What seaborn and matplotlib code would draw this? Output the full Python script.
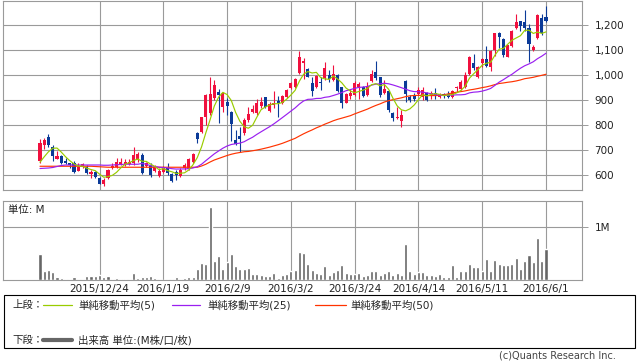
import numpy as np
import pandas as pd
import matplotlib
matplotlib.use('Agg')
import matplotlib.pyplot as plt
import seaborn as sns
from matplotlib.patches import Rectangle
from matplotlib.lines import Line2D

# ---------------- data ----------------
tick_idx = [14, 29, 44, 59, 74, 89, 104, 119]
tick_labels = ['2015/12/24', '2016/1/19', '2016/2/9', '2016/3/2',
               '2016/3/24', '2016/4/14', '2016/5/11', '2016/6/1']

open_ = [657, 720, 753, 713, 665, 676, 656, 647, 647, 617,
         633, 633, 604, 613, 589, 564, 587, 627, 633, 644,
         643, 643, 647, 660, 680, 637, 640, 617, 597, 613,
         627, 604, 611, 597, 627, 623, 653, 769, 773, 831,
         847, 909, 933, 871, 893, 853, 740, 756, 767, 820,
         853, 847, 876, 911, 856, 880, 897, 887, 913, 947,
         951, 1007, 1047, 1023, 969, 951, 973, 987, 1000, 980,
         1000, 951, 889, 916, 920, 951, 951, 920, 976, 1013,
         991, 929, 937, 849, 827, 817, 976, 913, 920, 924,
         911, 927, 916, 927, 913, 923, 923, 913, 947, 943,
         951, 1004, 1049, 993, 1047, 1063, 1033, 1100, 1169, 1143,
         1073, 1116, 1189, 1215, 1213, 1187, 1100, 1147, 1227, 1231]
high = [743, 747, 764, 720, 697, 680, 667, 649, 657, 649,
        647, 640, 620, 617, 593, 587, 624, 647, 667, 667,
        665, 663, 712, 693, 687, 651, 647, 640, 627, 636,
        647, 609, 620, 627, 647, 667, 689, 773, 833, 923,
        991, 980, 943, 933, 907, 856, 780, 793, 827, 873,
        880, 903, 911, 913, 893, 937, 916, 920, 943, 973,
        987, 1096, 1067, 1027, 993, 1000, 991, 1053, 1020, 1040,
        1004, 953, 927, 943, 977, 973, 956, 973, 1020, 1056,
        993, 980, 940, 853, 873, 860, 979, 920, 927, 951,
        951, 933, 937, 947, 927, 929, 936, 940, 956, 980,
        1013, 1076, 1084, 1036, 1067, 1116, 1100, 1169, 1172, 1147,
        1120, 1180, 1244, 1217, 1260, 1204, 1120, 1244, 1244, 1276]
low = [647, 704, 713, 657, 663, 644, 644, 627, 607, 615,
       629, 604, 587, 587, 563, 557, 583, 623, 627, 640,
       637, 639, 640, 653, 604, 633, 591, 613, 593, 609,
       600, 573, 580, 591, 620, 620, 649, 727, 769, 800,
       840, 900, 809, 853, 840, 737, 720, 693, 760, 813,
       847, 840, 867, 867, 853, 867, 833, 884, 907, 943,
       947, 1004, 984, 991, 917, 947, 940, 980, 973, 976,
       933, 867, 887, 903, 916, 903, 913, 916, 972, 980,
       913, 924, 853, 817, 824, 793, 893, 893, 897, 920,
       900, 897, 903, 903, 907, 909, 907, 909, 933, 940,
       947, 1000, 1020, 987, 1031, 1033, 1017, 1076, 1107, 1073,
       1071, 1113, 1183, 1177, 1177, 1053, 1097, 1144, 1161, 1213]
close = [727, 740, 720, 676, 676, 647, 647, 640, 613, 633,
         643, 607, 613, 591, 564, 580, 620, 637, 652, 653,
         651, 653, 680, 683, 609, 647, 600, 633, 617, 631,
         607, 577, 600, 620, 640, 663, 684, 743, 833, 920,
         924, 960, 920, 929, 876, 804, 724, 743, 820, 844,
         863, 887, 893, 873, 884, 889, 887, 916, 940, 967,
         983, 1071, 1056, 993, 937, 996, 967, 1029, 983, 1004,
         937, 889, 924, 927, 967, 964, 916, 956, 1004, 987,
         920, 943, 860, 827, 833, 840, 923, 900, 903, 940,
         940, 900, 929, 920, 923, 916, 913, 937, 953, 973,
         1000, 1073, 1027, 1033, 1063, 1037, 1097, 1167, 1151, 1080,
         1120, 1177, 1213, 1196, 1187, 1123, 1113, 1240, 1169, 1217]
volume = [0.49, 0.17, 0.19, 0.15, 0.05, 0.04, 0.02, 0.02, 0.06, 0.025,
          0.025, 0.075, 0.075, 0.07, 0.095, 0.063, 0.075, 0.025, 0.038, 0.02,
          0.02, 0.025, 0.126, 0.038, 0.063, 0.063, 0.075, 0.03, 0.013, 0.006,
          0.025, 0.02, 0.057, 0.02, 0.03, 0.05, 0.057, 0.21, 0.32, 0.30,
          1.38, 0.36, 0.45, 0.21, 0.34, 0.49, 0.26, 0.21, 0.21, 0.23,
          0.11, 0.11, 0.095, 0.07, 0.08, 0.13, 0.038, 0.095, 0.11, 0.17,
          0.19, 0.53, 0.51, 0.30, 0.19, 0.13, 0.11, 0.26, 0.095, 0.15,
          0.19, 0.28, 0.13, 0.11, 0.11, 0.13, 0.075, 0.095, 0.17, 0.17,
          0.095, 0.13, 0.17, 0.095, 0.13, 0.10, 0.68, 0.17, 0.11, 0.15,
          0.15, 0.095, 0.095, 0.075, 0.11, 0.057, 0.057, 0.28, 0.057, 0.17,
          0.17, 0.30, 0.25, 0.25, 0.17, 0.40, 0.17, 0.38, 0.30, 0.28,
          0.28, 0.30, 0.42, 0.21, 0.36, 0.47, 0.34, 0.79, 0.36, 0.58]

# moving-average values before enough history is visible
ma5_head = [651, 673, 693, 707]
ma25_head = [626, 627, 628, 630, 634, 638, 640, 640, 640, 640, 640, 640,
             640, 640, 640, 639, 639, 640, 641, 642, 643, 643, 643, 643]
ma50_head = [635] * 13 + [634, 633, 632] + [631] * 22 + \
            [636, 643, 652, 660, 666, 672, 678, 683, 687, 690, 693]

price_ticks = [600, 700, 800, 900, 1000, 1100, 1200]
price_tick_labels = ['600', '700', '800', '900', '1,000', '1,100', '1,200']

# ---------------- derived ----------------
n = len(close)
idx = np.arange(n)
o = np.array(open_, float); h = np.array(high, float)
l = np.array(low, float); c = np.array(close, float)
cs = pd.Series(c)
ma5 = cs.rolling(5).mean().to_numpy(); ma5[:4] = ma5_head
ma25 = cs.rolling(25).mean().to_numpy(); ma25[:24] = ma25_head
ma50 = cs.rolling(50).mean().to_numpy(); ma50[:49] = ma50_head

RED = '#f0103e'
BLUE = '#0b3a98'
GRID = '#9a9a9a'

sns.set_style('white')
plt.rcParams['font.family'] = ['DejaVu Sans', 'Noto Sans CJK JP']
plt.rcParams['font.size'] = 7.5

W, H = 638, 362
fig = plt.figure(figsize=(W / 100, H / 100), dpi=100)

def frac_rect(x0, y0, x1, y1):
    return [x0 / W, 1 - y1 / H, (x1 - x0) / W, (y1 - y0) / H]

axp = fig.add_axes(frac_rect(3, 1, 582, 190))
axv = fig.add_axes(frac_rect(3, 201, 582, 280))

xl = (-8.7, 127.47)

# ---- price panel ----
up = c >= o
cols = np.where(up, RED, BLUE)
axp.vlines(idx, l, h, colors=cols, lw=0.8, zorder=2)
bottoms = np.minimum(o, c)
heights = np.maximum(np.abs(c - o), 2.0)
axp.bar(idx, heights, bottom=bottoms, width=0.72, color=cols, linewidth=0, zorder=2)

for ma, col in [(ma50, '#ff3300'), (ma25, '#9a1ff0'), (ma5, '#99cc00')]:
    sns.lineplot(x=idx, y=ma, ax=axp, color=col, lw=0.85, estimator=None,
                 sort=False, zorder=3)

axp.set_xlim(*xl)
axp.set_ylim(540, 1296)
axp.set_xticks(tick_idx)
axp.set_xticklabels([])
axp.set_yticks(price_ticks)
axp.set_yticklabels(price_tick_labels)
axp.yaxis.tick_right()
axp.tick_params(axis='y', which='both', right=True, left=False, length=4,
                width=0.7, color=GRID, pad=5, labelsize=7.5, labelcolor='#222222')
axp.tick_params(axis='x', length=0)
axp.grid(True, color=GRID, lw=0.8)
axp.set_axisbelow(True)
for s in axp.spines.values():
    s.set_color(GRID); s.set_linewidth(0.8)
axp.set_xlabel(''); axp.set_ylabel('')

# ---- volume panel ----
sns.barplot(x=idx, y=volume, ax=axv, color='#666666', width=0.72,
            saturation=1, native_scale=True, errorbar=None, zorder=2)
axv.set_xlim(*xl)
axv.set_ylim(0, 1.49)
axv.set_xticks(tick_idx)
axv.set_xticklabels(tick_labels)
axv.set_yticks([1.0])
axv.set_yticklabels(['1M'])
axv.yaxis.tick_right()
axv.tick_params(axis='y', right=True, left=False, length=4, width=0.7,
                color=GRID, pad=5, labelsize=7.5, labelcolor='#222222')
axv.tick_params(axis='x', length=0, pad=3, labelsize=7.5, labelcolor='#222222')
axv.grid(True, color=GRID, lw=0.8)
axv.set_axisbelow(True)
for s in axv.spines.values():
    s.set_color(GRID); s.set_linewidth(0.8)
axv.set_xlabel(''); axv.set_ylabel('')

fig.text(8 / W, 1 - 210 / H, '単位: M', va='center', ha='left', fontsize=7.5,
         color='#222222')

# ---- legend box ----
fig.add_artist(Rectangle((4 / W, 1 - 348 / H), (635 - 4) / W, (348 - 295) / H,
                         transform=fig.transFigure, fill=False, ec='black', lw=0.8))
y1 = 1 - 305 / H
y2 = 1 - 340 / H
fig.text(12 / W, y1, '上段：', va='center', ha='left', fontsize=7.5)
fig.text(12 / W, y2, '下段：', va='center', ha='left', fontsize=7.5)
leg = [(43, 72, 78, '#99cc00', '単純移動平均(5)'),
       (172, 200, 207, '#9a1ff0', '単純移動平均(25)'),
       (315, 346, 350, '#ff3300', '単純移動平均(50)')]
for x0, x1, xt, col, txt in leg:
    fig.add_artist(Line2D([x0 / W, x1 / W], [y1, y1], transform=fig.transFigure,
                          color=col, lw=0.9))
    fig.text(xt / W, y1, txt, va='center', ha='left', fontsize=7.5)
fig.add_artist(Line2D([43 / W, 72 / W], [y2, y2], transform=fig.transFigure,
                      color='#666666', lw=3.0))
fig.text(78 / W, y2, '出来高 単位:(M株/口/枚)', va='center', ha='left', fontsize=7.5)

fig.text(616 / W, 1 - 355 / H, '(c)Quants Research Inc.', va='center', ha='right',
         fontsize=7, color='#444444')

fig.savefig('out.png', dpi=100, facecolor='white')
